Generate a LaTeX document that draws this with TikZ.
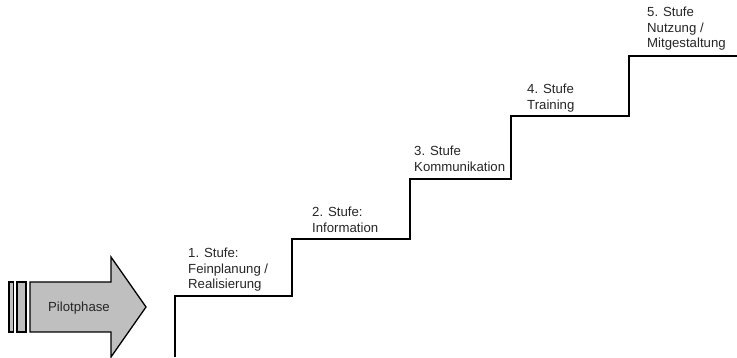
\documentclass[tikz,border=0pt]{standalone}
\usepackage{fontspec}
\setmainfont{Liberation Sans}
\begin{document}
\begin{tikzpicture}[x=1pt,y=-1pt,
  lbl/.style={anchor=north west,inner sep=0pt,align=left,font=\fontsize{13.2}{15.6}\selectfont,text=black!85},
  stair/.style={line width=2pt,line join=miter,black},
  arr/.style={draw=black,line width=1.3pt,fill=black!25,line join=miter}]
\useasboundingbox (0,0) rectangle (737,358);
% arrow
\draw[arr] (9,282) rectangle (13.5,332);
\draw[arr] (17,282) rectangle (26,332);
\draw[arr] (30,282) -- (111,282) -- (111,257) -- (146,307) -- (111,357) -- (111,332) -- (30,332) -- cycle;
\node[inner sep=0pt,font=\fontsize{13.2}{15}\selectfont,text=black!85] (pilot) at (79,308) {Pilotphase};
% stairs
\coordinate (s0) at (175,357);
\coordinate (s1) at (175,296);
\coordinate (s2) at (292,296);
\coordinate (s3) at (292,239);
\coordinate (s4) at (410,239);
\coordinate (s5) at (410,179);
\coordinate (s6) at (511,179);
\coordinate (s7) at (511,116);
\coordinate (s8) at (629,116);
\coordinate (s9) at (629,56);
\coordinate (s10) at (737,56);
\draw[stair] (s0) -- (s1) -- (s2) -- (s3) -- (s4) -- (s5) -- (s6) -- (s7) -- (s8) -- (s9) -- (s10);
% labels
\node[lbl] (l1) at (188,248) {1. Stufe:\\Feinplanung /\\Realisierung};
\node[lbl] (l2) at (312,207) {2. Stufe:\\Information};
\node[lbl] (l3) at (414,146) {3. Stufe\\Kommunikation};
\node[lbl] (l4) at (527,84) {4. Stufe\\Training};
\node[lbl] (l5) at (647,7) {5. Stufe\\Nutzung /\\Mitgestaltung};
\end{tikzpicture}
\end{document}
